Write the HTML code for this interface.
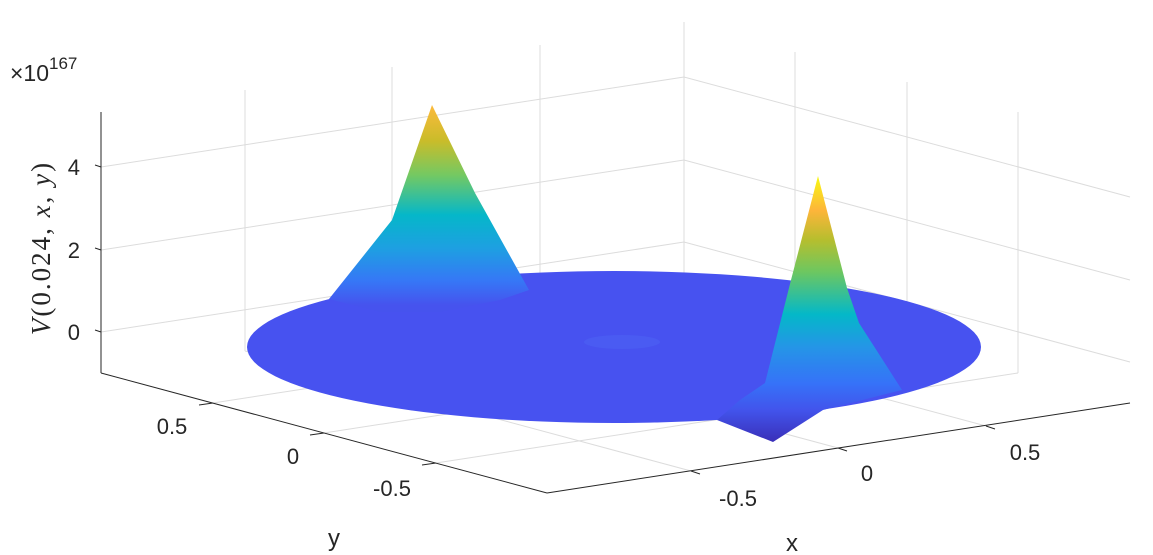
<!DOCTYPE html>
<html><head><meta charset="utf-8"><style>
html,body{margin:0;padding:0;background:#fff;}
svg{display:block;}
text{font-family:"Liberation Sans",sans-serif;fill:#262626;}
</style></head><body>
<svg width="1153" height="555" viewBox="0 0 1153 555" xmlns="http://www.w3.org/2000/svg">
<defs>
<linearGradient id="gl" x1="0" y1="105" x2="0" y2="305" gradientUnits="userSpaceOnUse">
<stop offset="0" stop-color="#FDBA3C"/>
<stop offset="0.18" stop-color="#C9BC2A"/>
<stop offset="0.35" stop-color="#74C962"/>
<stop offset="0.55" stop-color="#05B7C9"/>
<stop offset="0.72" stop-color="#1E9FE2"/>
<stop offset="0.88" stop-color="#3677F6"/>
<stop offset="1" stop-color="#4653EE"/>
</linearGradient>
<linearGradient id="gr" x1="0" y1="176" x2="0" y2="442" gradientUnits="userSpaceOnUse">
<stop offset="0" stop-color="#F8F911"/>
<stop offset="0.13" stop-color="#FDB53A"/>
<stop offset="0.24" stop-color="#B6BE2E"/>
<stop offset="0.36" stop-color="#6DC760"/>
<stop offset="0.52" stop-color="#04B8C8"/>
<stop offset="0.64" stop-color="#2496E6"/>
<stop offset="0.78" stop-color="#3672F8"/>
<stop offset="0.88" stop-color="#4254EC"/>
<stop offset="1" stop-color="#3A2FB8"/>
</linearGradient>
</defs>
<g stroke="#dcdcdc" stroke-width="1" fill="none">
<polyline points="101,332 684,242 1130,362"/>
<polyline points="101,250 684,160 1130,280"/>
<polyline points="101,167 684,77 1130,197"/>
<line x1="245" y1="351" x2="245" y2="90"/>
<line x1="392" y1="328" x2="392" y2="67"/>
<line x1="540" y1="306" x2="540" y2="45"/>
<line x1="684" y1="283" x2="684" y2="22"/>
<line x1="795" y1="313" x2="795" y2="52"/>
<line x1="907" y1="343" x2="907" y2="82"/>
<line x1="1018" y1="373" x2="1018" y2="112"/>
<line x1="245" y1="351" x2="691" y2="471"/>
<line x1="392" y1="328" x2="838" y2="448"/>
<line x1="540" y1="306" x2="986" y2="426"/>
<line x1="213" y1="403" x2="795" y2="313"/>
<line x1="324" y1="433" x2="907" y2="343"/>
<line x1="436" y1="463" x2="1018" y2="373"/>
</g>
<g stroke="#262626" stroke-width="1" fill="none">
<line x1="101" y1="112" x2="101" y2="373"/>
<line x1="101" y1="373" x2="547" y2="493"/>
<line x1="547" y1="493" x2="1130" y2="403"/>
<line x1="101" y1="332" x2="95" y2="330"/>
<line x1="101" y1="250" x2="95" y2="248"/>
<line x1="101" y1="167" x2="95" y2="165"/>
<line x1="213" y1="403" x2="199" y2="405"/>
<line x1="324" y1="433" x2="310" y2="435"/>
<line x1="436" y1="463" x2="422" y2="465"/>
<line x1="691" y1="471" x2="700" y2="474"/>
<line x1="838" y1="448" x2="847" y2="451"/>
<line x1="986" y1="426" x2="995" y2="429"/>
</g>
<ellipse cx="614" cy="347" rx="367" ry="76" fill="#4752F0"/>
<ellipse cx="622" cy="342" rx="38" ry="7" fill="#4A5BF2"/>
<polygon points="432,105 475,193 529,290 500,300 440,312 380,312 329,299 392,220" fill="url(#gl)"/>
<polygon points="818,176 847,288 859,323 902,390 823,410 773,442 717,420 740,400 765,383 791,280" fill="url(#gr)"/>
<g font-size="22">
<text x="80" y="340" text-anchor="end">0</text>
<text x="80" y="258" text-anchor="end">2</text>
<text x="80" y="175" text-anchor="end">4</text>
<text x="172" y="434" text-anchor="middle">0.5</text>
<text x="293" y="464" text-anchor="middle">0</text>
<text x="392" y="496" text-anchor="middle">-0.5</text>
<text x="738" y="506" text-anchor="middle">-0.5</text>
<text x="867" y="481" text-anchor="middle">0</text>
<text x="1025" y="460" text-anchor="middle">0.5</text>
<text x="334" y="546" text-anchor="middle" font-size="24">y</text>
<text x="792" y="551" text-anchor="middle" font-size="24">x</text>
</g>
<text x="10" y="81" font-size="23">×10<tspan font-size="17" dy="-12">167</tspan></text>
<text transform="translate(50,248) rotate(-90)" text-anchor="middle" font-size="27" letter-spacing="2" style="font-family:'Liberation Serif',serif"><tspan font-style="italic">V</tspan>(0.024, <tspan font-style="italic">x</tspan>, <tspan font-style="italic">y</tspan>)</text>
</svg>
</body></html>
